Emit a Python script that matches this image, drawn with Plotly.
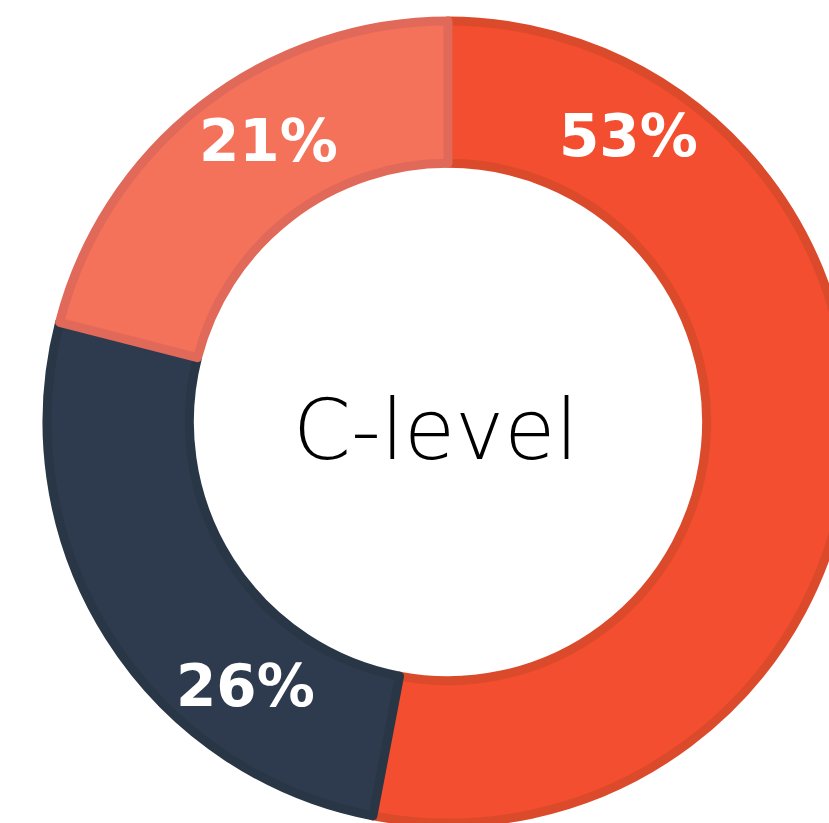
import plotly.graph_objects as go

# Data
categories = ["Segment A", "Segment B", "Segment C"]
values = [53, 26, 21]
value_labels = ["53%", "26%", "21%"]
center_label = "C-level"

fill_colors = ["#F34E2F", "#2E3B4E", "#F4715A"]
line_colors = ["#DC4A2C", "#283646", "#E1695A"]

W, H = 860, 830
cx, cy = 448, 422          # pixel center of donut
R = 401                    # pie radius (px)
LW = 9

fig = go.Figure(go.Pie(
    labels=categories,
    values=values,
    sort=False,
    direction="clockwise",
    rotation=0,
    hole=0.645,
    textinfo="none",
    hoverinfo="skip",
    marker=dict(colors=fill_colors, line=dict(color=line_colors, width=LW)),
    domain=dict(x=[(cx - R) / W, (cx + R) / W], y=[1 - (cy + R) / H, 1 - (cy - R) / H]),
    showlegend=False,
))

label_px = [(628, 136), (245, 686), (268, 141)]
annotations = []
for txt, (px, py) in zip(value_labels, label_px):
    annotations.append(dict(
        x=px / W, y=1 - py / H, xref="paper", yref="paper",
        text=txt, showarrow=False, xanchor="center", yanchor="middle",
        font=dict(family="DejaVu Sans", size=58, color="white", weight=700),
    ))
annotations.append(dict(
    x=435 / W, y=1 - 430 / H, xref="paper", yref="paper",
    text=center_label, showarrow=False, xanchor="center", yanchor="middle",
    font=dict(family="DejaVu Sans", size=83, color="black", weight=200),
))

fig.update_layout(
    width=W, height=H,
    margin=dict(l=0, r=0, t=0, b=0),
    paper_bgcolor="white", plot_bgcolor="white",
    annotations=annotations,
)

fig.write_html(
    "out.html",
    config={"displayModeBar": False},
    post_script="document.body.style.margin='0';document.body.style.overflow='hidden';",
)
